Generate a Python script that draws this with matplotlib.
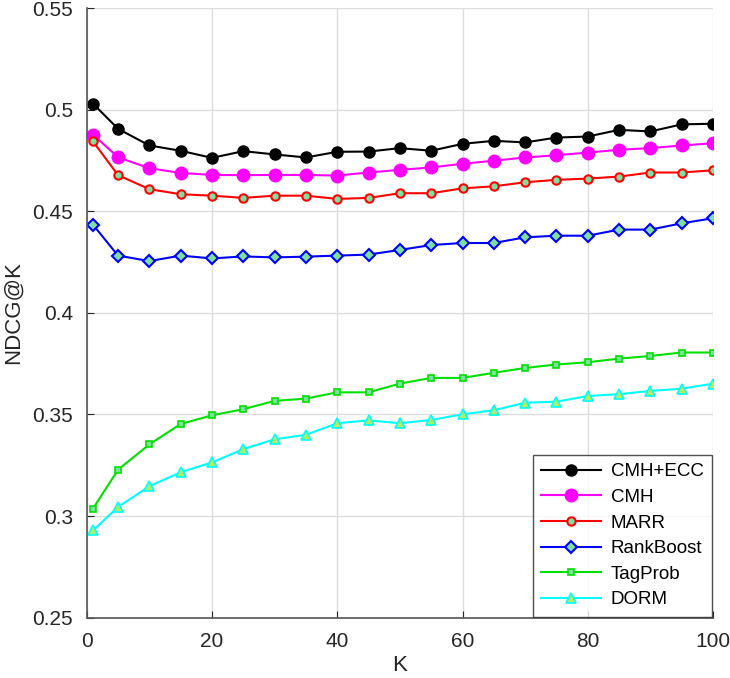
import numpy as np
import matplotlib.pyplot as plt

plt.rcParams['font.family'] = ['Liberation Sans', 'DejaVu Sans']

K = [1, 5, 10, 15, 20, 25, 30, 35, 40, 45, 50,
     55, 60, 65, 70, 75, 80, 85, 90, 95, 100]

cmh_ecc = [0.5030, 0.4906, 0.4824, 0.4798, 0.4763, 0.4796, 0.4780, 0.4765, 0.4793, 0.4794, 0.4811,
           0.4798, 0.4832, 0.4847, 0.4839, 0.4863, 0.4868, 0.4901, 0.4893, 0.4928, 0.4931]
cmh = [0.4878, 0.4766, 0.4712, 0.4689, 0.4679, 0.4678, 0.4679, 0.4679, 0.4676, 0.4691, 0.4704,
       0.4716, 0.4734, 0.4749, 0.4765, 0.4776, 0.4789, 0.4803, 0.4811, 0.4824, 0.4835]
marr = [0.4844, 0.4678, 0.4609, 0.4584, 0.4577, 0.4566, 0.4577, 0.4577, 0.4561, 0.4566, 0.4589,
        0.4589, 0.4613, 0.4623, 0.4643, 0.4655, 0.4661, 0.4671, 0.4691, 0.4691, 0.4702]
rankboost = [0.4434, 0.4282, 0.4255, 0.4282, 0.4268, 0.4278, 0.4273, 0.4277, 0.4282, 0.4287, 0.4310,
             0.4334, 0.4344, 0.4344, 0.4372, 0.4380, 0.4380, 0.4410, 0.4410, 0.4441, 0.4466]
tagprob = [0.3037, 0.3228, 0.3353, 0.3453, 0.3496, 0.3526, 0.3567, 0.3578, 0.3609, 0.3609, 0.3652,
           0.3680, 0.3680, 0.3705, 0.3729, 0.3746, 0.3757, 0.3775, 0.3788, 0.3805, 0.3805]
dorm = [0.2929, 0.3045, 0.3147, 0.3216, 0.3264, 0.3330, 0.3378, 0.3400, 0.3457, 0.3471, 0.3457,
        0.3473, 0.3501, 0.3521, 0.3558, 0.3563, 0.3591, 0.3600, 0.3616, 0.3627, 0.3652]

mint = '#7ce0a0'

fig = plt.figure(figsize=(7.3, 6.78), dpi=100)
ax = fig.add_axes([0.1188, 0.089, 0.858, 0.899])

ax.plot(K, cmh_ecc, '-o', color='black', lw=1.5, ms=8, mfc='black', mec='black', label='CMH+ECC')
ax.plot(K, cmh, '-o', color='#ff00ff', lw=1.5, ms=9, mfc='#ff00ff', mec='#ff00ff', label='CMH')
ax.plot(K, marr, '-o', color='red', lw=1.5, ms=6, mfc=mint, mec='red', mew=1.5, label='MARR')
ax.plot(K, rankboost, '-D', color='blue', lw=1.5, ms=6.5, mfc=mint, mec='blue', mew=1.5, label='RankBoost')
ax.plot(K, tagprob, '-s', color='#00e000', lw=1.5, ms=4, mfc=mint, mec='#00e000', mew=1.2, label='TagProb')
ax.plot(K, dorm, '-^', color='cyan', lw=1.5, ms=7, mfc='#b0f060', mec='cyan', mew=1.2, label='DORM')

ax.set_xlim(0, 100)
ax.set_ylim(0.25, 0.55)
ax.set_xticks(np.arange(0, 101, 20))
ax.set_yticks([0.25, 0.3, 0.35, 0.4, 0.45, 0.5, 0.55])
ax.set_yticklabels(['0.25', '0.3', '0.35', '0.4', '0.45', '0.5', '0.55'])
ax.grid(True, color='#dddddd', lw=1)
ax.set_axisbelow(True)
ax.tick_params(direction='in', labelsize=15, colors='#262626', length=5, top=False, right=False)
ax.tick_params(axis='y', pad=10)
ax.tick_params(axis='x', pad=10)
for s in ['top', 'right']:
    ax.spines[s].set_visible(False)
for s in ['left', 'bottom']:
    ax.spines[s].set_color('#555555')
    ax.spines[s].set_linewidth(1.2)
ax.set_xlabel('K', fontsize=16, color='#262626', labelpad=3)
ax.set_ylabel('NDCG@K', fontsize=16, color='#262626', labelpad=6)

leg = ax.legend(loc='lower right', fontsize=13.5, frameon=True, fancybox=False,
                edgecolor='#262626', handlelength=3.2, borderaxespad=0.05, labelspacing=0.45,
                handletextpad=0.5, borderpad=0.45)
leg.get_frame().set_linewidth(1)

fig.savefig('out.png', dpi=100)
